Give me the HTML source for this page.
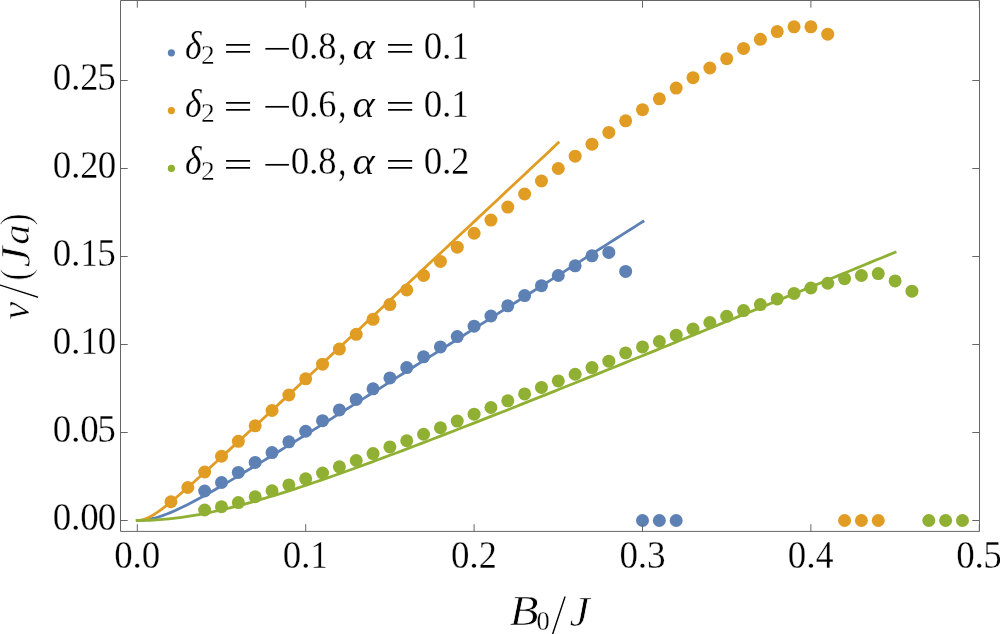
<!DOCTYPE html>
<html lang="en"><head><meta charset="utf-8"><title>v/(Ja) vs B0/J</title>
<style>html,body{margin:0;padding:0;background:#fff}svg{display:block}</style></head>
<body>
<svg width="1000" height="634" viewBox="0 0 1000 634" font-family="'Liberation Serif', serif" fill="#000">
<rect width="1000" height="634" fill="#fff"/>
<polyline points="137.30,520.50 141.51,520.35 145.73,519.91 149.94,519.20 154.16,518.23 158.37,517.03 162.59,515.63 166.80,514.06 171.01,512.35 175.23,510.51 179.44,508.56 183.66,506.53 187.87,504.41 192.08,502.24 196.30,500.00 200.51,497.72 204.73,495.40 208.94,493.04 213.16,490.66 217.37,488.24 221.58,485.81 225.80,483.35 230.01,480.87 234.23,478.38 238.44,475.87 242.66,473.35 246.87,470.82 251.08,468.27 255.30,465.72 259.51,463.16 263.73,460.59 267.94,458.01 272.15,455.43 276.37,452.84 280.58,450.25 284.80,447.65 289.01,445.05 293.23,442.44 297.44,439.83 301.65,437.21 305.87,434.59 310.08,431.97 314.30,429.34 318.51,426.72 322.73,424.08 326.94,421.45 331.15,418.82 335.37,416.18 339.58,413.54 343.80,410.90 348.01,408.26 352.22,405.61 356.44,402.96 360.65,400.32 364.87,397.67 369.08,395.02 373.30,392.37 377.51,389.71 381.72,387.06 385.94,384.40 390.15,381.75 394.37,379.09 398.58,376.43 402.80,373.77 407.01,371.11 411.22,368.45 415.44,365.79 419.65,363.13 423.87,360.46 428.08,357.80 432.29,355.14 436.51,352.47 440.72,349.81 444.94,347.14 449.15,344.47 453.37,341.81 457.58,339.14 461.79,336.47 466.01,333.80 470.22,331.13 474.44,328.46 478.65,325.79 482.87,323.12 487.08,320.45 491.29,317.78 495.51,315.11 499.72,312.44 503.94,309.77 508.15,307.09 512.36,304.42 516.58,301.75 520.79,299.07 525.01,296.40 529.22,293.73 533.44,291.05 537.65,288.38 541.86,285.70 546.08,283.03 550.29,280.35 554.51,277.68 558.72,275.00 562.94,272.33 567.15,269.65 571.36,266.97 575.58,264.30 579.79,261.62 584.01,258.94 588.22,256.27 592.43,253.59 596.65,250.91 600.86,248.23 605.08,245.56 609.29,242.88 613.51,240.20 617.72,237.52 621.93,234.84 626.15,232.16 630.36,229.49 634.58,226.81 638.79,224.13 643.01,221.45" fill="none" stroke="#5E81B5" stroke-width="2.8" stroke-linecap="square" stroke-linejoin="round"/>
<polyline points="137.30,520.50 140.81,520.19 144.32,519.30 147.83,517.89 151.33,516.08 154.84,513.95 158.35,511.58 161.86,509.03 165.37,506.34 168.88,503.55 172.38,500.67 175.89,497.73 179.40,494.75 182.91,491.72 186.42,488.65 189.93,485.56 193.43,482.45 196.94,479.32 200.45,476.17 203.96,473.01 207.47,469.83 210.98,466.65 214.48,463.45 217.99,460.25 221.50,457.04 225.01,453.83 228.52,450.61 232.03,447.38 235.53,444.15 239.04,440.92 242.55,437.68 246.06,434.44 249.57,431.19 253.08,427.95 256.58,424.70 260.09,421.45 263.60,418.20 267.11,414.94 270.62,411.68 274.12,408.42 277.63,405.16 281.14,401.90 284.65,398.64 288.16,395.38 291.67,392.11 295.18,388.85 298.68,385.58 302.19,382.31 305.70,379.04 309.21,375.77 312.72,372.50 316.23,369.23 319.73,365.96 323.24,362.69 326.75,359.41 330.26,356.14 333.77,352.87 337.27,349.59 340.78,346.32 344.29,343.04 347.80,339.76 351.31,336.49 354.82,333.21 358.33,329.93 361.83,326.65 365.34,323.38 368.85,320.10 372.36,316.82 375.87,313.54 379.38,310.26 382.88,306.98 386.39,303.70 389.90,300.42 393.41,297.14 396.92,293.86 400.43,290.58 403.93,287.30 407.44,284.02 410.95,280.74 414.46,277.46 417.97,274.17 421.48,270.89 424.98,267.61 428.49,264.33 432.00,261.04 435.51,257.76 439.02,254.48 442.52,251.20 446.03,247.91 449.54,244.63 453.05,241.35 456.56,238.06 460.07,234.78 463.58,231.50 467.08,228.21 470.59,224.93 474.10,221.64 477.61,218.36 481.12,215.08 484.62,211.79 488.13,208.51 491.64,205.22 495.15,201.94 498.66,198.65 502.17,195.37 505.68,192.08 509.18,188.80 512.69,185.51 516.20,182.23 519.71,178.94 523.22,175.66 526.73,172.37 530.23,169.09 533.74,165.80 537.25,162.52 540.76,159.23 544.27,155.95 547.77,152.66 551.28,149.38 554.79,146.09 558.30,142.80" fill="none" stroke="#E19C24" stroke-width="2.8" stroke-linecap="square" stroke-linejoin="round"/>
<polyline points="137.30,520.50 143.62,520.43 149.93,520.24 156.25,519.91 162.56,519.46 168.88,518.88 175.19,518.18 181.50,517.37 187.82,516.44 194.13,515.41 200.45,514.28 206.77,513.06 213.08,511.75 219.40,510.35 225.71,508.87 232.03,507.33 238.34,505.71 244.66,504.04 250.97,502.30 257.29,500.51 263.60,498.67 269.92,496.78 276.23,494.85 282.54,492.88 288.86,490.87 295.18,488.83 301.49,486.76 307.81,484.65 314.12,482.52 320.44,480.36 326.75,478.18 333.07,475.97 339.38,473.74 345.70,471.50 352.01,469.23 358.33,466.95 364.64,464.65 370.96,462.34 377.27,460.01 383.59,457.67 389.90,455.31 396.22,452.95 402.53,450.57 408.85,448.18 415.16,445.79 421.48,443.38 427.79,440.96 434.11,438.54 440.42,436.11 446.74,433.67 453.05,431.22 459.37,428.77 465.68,426.31 472.00,423.84 478.31,421.37 484.62,418.89 490.94,416.41 497.26,413.92 503.57,411.43 509.88,408.93 516.20,406.43 522.51,403.92 528.83,401.41 535.14,398.90 541.46,396.38 547.77,393.86 554.09,391.34 560.41,388.81 566.72,386.28 573.03,383.74 579.35,381.21 585.66,378.67 591.98,376.13 598.30,373.58 604.61,371.03 610.92,368.49 617.24,365.93 623.56,363.38 629.87,360.82 636.19,358.27 642.50,355.71 648.82,353.14 655.13,350.58 661.45,348.02 667.76,345.45 674.08,342.88 680.39,340.31 686.70,337.74 693.02,335.17 699.34,332.59 705.65,330.01 711.96,327.44 718.28,324.86 724.60,322.28 730.91,319.70 737.23,317.11 743.54,314.53 749.86,311.95 756.17,309.36 762.49,306.77 768.80,304.18 775.12,301.60 781.43,299.01 787.75,296.42 794.06,293.82 800.38,291.23 806.69,288.64 813.01,286.04 819.32,283.45 825.64,280.85 831.95,278.25 838.27,275.66 844.58,273.06 850.89,270.46 857.21,267.86 863.53,265.26 869.84,262.66 876.15,260.06 882.47,257.45 888.79,254.85 895.10,252.25" fill="none" stroke="#8FB032" stroke-width="2.8" stroke-linecap="square" stroke-linejoin="round"/>
<g fill="#5E81B5">
<circle cx="204.66" cy="491.00" r="6.5"/>
<circle cx="221.50" cy="482.48" r="6.5"/>
<circle cx="238.34" cy="472.45" r="6.5"/>
<circle cx="255.18" cy="462.42" r="6.5"/>
<circle cx="272.02" cy="452.56" r="6.5"/>
<circle cx="288.86" cy="441.83" r="6.5"/>
<circle cx="305.70" cy="431.27" r="6.5"/>
<circle cx="322.54" cy="420.71" r="6.5"/>
<circle cx="339.38" cy="409.97" r="6.5"/>
<circle cx="356.22" cy="399.41" r="6.5"/>
<circle cx="373.06" cy="388.85" r="6.5"/>
<circle cx="389.90" cy="377.94" r="6.5"/>
<circle cx="406.74" cy="367.56" r="6.5"/>
<circle cx="423.58" cy="356.82" r="6.5"/>
<circle cx="440.42" cy="346.96" r="6.5"/>
<circle cx="457.26" cy="336.58" r="6.5"/>
<circle cx="474.10" cy="326.20" r="6.5"/>
<circle cx="490.94" cy="315.99" r="6.5"/>
<circle cx="507.78" cy="305.78" r="6.5"/>
<circle cx="524.62" cy="295.57" r="6.5"/>
<circle cx="541.46" cy="285.72" r="6.5"/>
<circle cx="558.30" cy="275.51" r="6.5"/>
<circle cx="575.14" cy="265.83" r="6.5"/>
<circle cx="591.98" cy="255.80" r="6.5"/>
<circle cx="608.82" cy="252.45" r="6.5"/>
<circle cx="625.66" cy="271.46" r="6.5"/>
<circle cx="642.50" cy="520.50" r="6.5"/>
<circle cx="659.34" cy="520.50" r="6.5"/>
<circle cx="676.18" cy="520.50" r="6.5"/>
</g>
<g fill="#E19C24">
<circle cx="170.98" cy="501.76" r="6.5"/>
<circle cx="187.82" cy="487.50" r="6.5"/>
<circle cx="204.66" cy="471.99" r="6.5"/>
<circle cx="221.50" cy="456.26" r="6.5"/>
<circle cx="238.34" cy="441.30" r="6.5"/>
<circle cx="255.18" cy="425.81" r="6.5"/>
<circle cx="272.02" cy="410.50" r="6.5"/>
<circle cx="288.86" cy="395.01" r="6.5"/>
<circle cx="305.70" cy="378.82" r="6.5"/>
<circle cx="322.54" cy="364.21" r="6.5"/>
<circle cx="339.38" cy="349.08" r="6.5"/>
<circle cx="356.22" cy="334.29" r="6.5"/>
<circle cx="373.06" cy="319.33" r="6.5"/>
<circle cx="389.90" cy="304.55" r="6.5"/>
<circle cx="406.74" cy="289.94" r="6.5"/>
<circle cx="423.58" cy="275.51" r="6.5"/>
<circle cx="440.42" cy="261.43" r="6.5"/>
<circle cx="457.26" cy="247.17" r="6.5"/>
<circle cx="474.10" cy="233.27" r="6.5"/>
<circle cx="490.94" cy="220.07" r="6.5"/>
<circle cx="507.78" cy="207.04" r="6.5"/>
<circle cx="524.62" cy="194.02" r="6.5"/>
<circle cx="541.46" cy="181.00" r="6.5"/>
<circle cx="558.30" cy="168.50" r="6.5"/>
<circle cx="575.14" cy="156.18" r="6.5"/>
<circle cx="591.98" cy="144.21" r="6.5"/>
<circle cx="608.82" cy="132.42" r="6.5"/>
<circle cx="625.66" cy="120.80" r="6.5"/>
<circle cx="642.50" cy="109.72" r="6.5"/>
<circle cx="659.34" cy="98.80" r="6.5"/>
<circle cx="676.18" cy="88.07" r="6.5"/>
<circle cx="693.02" cy="77.68" r="6.5"/>
<circle cx="709.86" cy="68.00" r="6.5"/>
<circle cx="726.70" cy="58.68" r="6.5"/>
<circle cx="743.54" cy="48.47" r="6.5"/>
<circle cx="760.38" cy="39.32" r="6.5"/>
<circle cx="777.22" cy="31.57" r="6.5"/>
<circle cx="794.06" cy="26.82" r="6.5"/>
<circle cx="810.90" cy="26.82" r="6.5"/>
<circle cx="827.74" cy="34.21" r="6.5"/>
<circle cx="844.58" cy="520.50" r="6.5"/>
<circle cx="861.42" cy="520.50" r="6.5"/>
<circle cx="878.26" cy="520.50" r="6.5"/>
</g>
<g fill="#8FB032">
<circle cx="204.66" cy="509.99" r="6.5"/>
<circle cx="221.50" cy="506.77" r="6.5"/>
<circle cx="238.34" cy="502.55" r="6.5"/>
<circle cx="255.18" cy="496.74" r="6.5"/>
<circle cx="272.02" cy="490.76" r="6.5"/>
<circle cx="288.86" cy="484.95" r="6.5"/>
<circle cx="305.70" cy="478.79" r="6.5"/>
<circle cx="322.54" cy="472.98" r="6.5"/>
<circle cx="339.38" cy="466.82" r="6.5"/>
<circle cx="356.22" cy="460.48" r="6.5"/>
<circle cx="373.06" cy="453.62" r="6.5"/>
<circle cx="389.90" cy="446.93" r="6.5"/>
<circle cx="406.74" cy="440.77" r="6.5"/>
<circle cx="423.58" cy="434.26" r="6.5"/>
<circle cx="440.42" cy="427.75" r="6.5"/>
<circle cx="457.26" cy="421.06" r="6.5"/>
<circle cx="474.10" cy="414.20" r="6.5"/>
<circle cx="490.94" cy="407.51" r="6.5"/>
<circle cx="507.78" cy="400.82" r="6.5"/>
<circle cx="524.62" cy="393.96" r="6.5"/>
<circle cx="541.46" cy="387.44" r="6.5"/>
<circle cx="558.30" cy="380.93" r="6.5"/>
<circle cx="575.14" cy="374.24" r="6.5"/>
<circle cx="591.98" cy="367.56" r="6.5"/>
<circle cx="608.82" cy="361.22" r="6.5"/>
<circle cx="625.66" cy="352.95" r="6.5"/>
<circle cx="642.50" cy="346.96" r="6.5"/>
<circle cx="659.34" cy="341.51" r="6.5"/>
<circle cx="676.18" cy="335.17" r="6.5"/>
<circle cx="693.02" cy="329.01" r="6.5"/>
<circle cx="709.86" cy="322.50" r="6.5"/>
<circle cx="726.70" cy="316.34" r="6.5"/>
<circle cx="743.54" cy="310.53" r="6.5"/>
<circle cx="760.38" cy="304.55" r="6.5"/>
<circle cx="777.22" cy="298.92" r="6.5"/>
<circle cx="794.06" cy="293.46" r="6.5"/>
<circle cx="810.90" cy="288.00" r="6.5"/>
<circle cx="827.74" cy="283.25" r="6.5"/>
<circle cx="844.58" cy="278.68" r="6.5"/>
<circle cx="861.42" cy="275.51" r="6.5"/>
<circle cx="878.26" cy="273.57" r="6.5"/>
<circle cx="895.10" cy="280.96" r="6.5"/>
<circle cx="911.94" cy="291.17" r="6.5"/>
<circle cx="928.78" cy="520.50" r="6.5"/>
<circle cx="945.62" cy="520.50" r="6.5"/>
<circle cx="962.46" cy="520.50" r="6.5"/>
</g>
<g stroke="#666" stroke-width="1" fill="none">
<path d="M120.5,0.5H979.5V531.4H120.5Z"/>
<path d="M137.30,531.4v-7.2M137.30,0.5v7.2M120.5,520.50h7.2M979.5,520.50h-7.2M305.70,531.4v-7.2M305.70,0.5v7.2M120.5,432.50h7.2M979.5,432.50h-7.2M474.10,531.4v-7.2M474.10,0.5v7.2M120.5,344.50h7.2M979.5,344.50h-7.2M642.50,531.4v-7.2M642.50,0.5v7.2M120.5,256.50h7.2M979.5,256.50h-7.2M810.90,531.4v-7.2M810.90,0.5v7.2M120.5,168.50h7.2M979.5,168.50h-7.2M979.30,531.4v-7.2M979.30,0.5v7.2M120.5,80.50h7.2M979.5,80.50h-7.2"/>
</g>
<text><tspan x="52.64" y="530.00" font-size="39.20" textLength="18.51" lengthAdjust="spacingAndGlyphs" stroke="#fff" stroke-width="0.30">0</tspan><tspan x="70.72" y="530.00" font-size="37.29" textLength="9.96" lengthAdjust="spacingAndGlyphs" stroke="#fff" stroke-width="0.30">.</tspan><tspan x="80.24" y="530.00" font-size="39.20" textLength="18.51" lengthAdjust="spacingAndGlyphs" stroke="#fff" stroke-width="0.30">0</tspan><tspan x="97.84" y="530.00" font-size="39.20" textLength="18.51" lengthAdjust="spacingAndGlyphs" stroke="#fff" stroke-width="0.30">0</tspan></text>
<text><tspan x="114.24" y="568.30" font-size="39.20" textLength="18.51" lengthAdjust="spacingAndGlyphs" stroke="#fff" stroke-width="0.30">0</tspan><tspan x="132.32" y="568.30" font-size="37.29" textLength="9.96" lengthAdjust="spacingAndGlyphs" stroke="#fff" stroke-width="0.30">.</tspan><tspan x="141.84" y="568.30" font-size="39.20" textLength="18.51" lengthAdjust="spacingAndGlyphs" stroke="#fff" stroke-width="0.30">0</tspan></text>
<text><tspan x="52.64" y="442.00" font-size="39.20" textLength="18.51" lengthAdjust="spacingAndGlyphs" stroke="#fff" stroke-width="0.30">0</tspan><tspan x="70.72" y="442.00" font-size="37.29" textLength="9.96" lengthAdjust="spacingAndGlyphs" stroke="#fff" stroke-width="0.30">.</tspan><tspan x="80.24" y="442.00" font-size="39.20" textLength="18.51" lengthAdjust="spacingAndGlyphs" stroke="#fff" stroke-width="0.30">0</tspan><tspan x="97.29" y="442.00" font-size="39.20" textLength="18.61" lengthAdjust="spacingAndGlyphs" stroke="#fff" stroke-width="0.30">5</tspan></text>
<text><tspan x="282.64" y="568.30" font-size="39.20" textLength="18.51" lengthAdjust="spacingAndGlyphs" stroke="#fff" stroke-width="0.30">0</tspan><tspan x="300.72" y="568.30" font-size="37.29" textLength="9.96" lengthAdjust="spacingAndGlyphs" stroke="#fff" stroke-width="0.30">.</tspan><tspan x="310.48" y="568.30" font-size="39.20" textLength="17.47" lengthAdjust="spacingAndGlyphs" stroke="#fff" stroke-width="0.30">1</tspan></text>
<text><tspan x="52.64" y="354.00" font-size="39.20" textLength="18.51" lengthAdjust="spacingAndGlyphs" stroke="#fff" stroke-width="0.30">0</tspan><tspan x="70.72" y="354.00" font-size="37.29" textLength="9.96" lengthAdjust="spacingAndGlyphs" stroke="#fff" stroke-width="0.30">.</tspan><tspan x="80.47" y="354.00" font-size="39.20" textLength="17.47" lengthAdjust="spacingAndGlyphs" stroke="#fff" stroke-width="0.30">1</tspan><tspan x="97.84" y="354.00" font-size="39.20" textLength="18.51" lengthAdjust="spacingAndGlyphs" stroke="#fff" stroke-width="0.30">0</tspan></text>
<text><tspan x="451.04" y="568.30" font-size="39.20" textLength="18.51" lengthAdjust="spacingAndGlyphs" stroke="#fff" stroke-width="0.30">0</tspan><tspan x="469.12" y="568.30" font-size="37.29" textLength="9.96" lengthAdjust="spacingAndGlyphs" stroke="#fff" stroke-width="0.30">.</tspan><tspan x="478.66" y="568.30" font-size="39.20" textLength="18.08" lengthAdjust="spacingAndGlyphs" stroke="#fff" stroke-width="0.30">2</tspan></text>
<text><tspan x="52.64" y="266.00" font-size="39.20" textLength="18.51" lengthAdjust="spacingAndGlyphs" stroke="#fff" stroke-width="0.30">0</tspan><tspan x="70.72" y="266.00" font-size="37.29" textLength="9.96" lengthAdjust="spacingAndGlyphs" stroke="#fff" stroke-width="0.30">.</tspan><tspan x="80.47" y="266.00" font-size="39.20" textLength="17.47" lengthAdjust="spacingAndGlyphs" stroke="#fff" stroke-width="0.30">1</tspan><tspan x="97.29" y="266.00" font-size="39.20" textLength="18.61" lengthAdjust="spacingAndGlyphs" stroke="#fff" stroke-width="0.30">5</tspan></text>
<text><tspan x="619.44" y="568.30" font-size="39.20" textLength="18.51" lengthAdjust="spacingAndGlyphs" stroke="#fff" stroke-width="0.30">0</tspan><tspan x="637.52" y="568.30" font-size="37.29" textLength="9.96" lengthAdjust="spacingAndGlyphs" stroke="#fff" stroke-width="0.30">.</tspan><tspan x="647.06" y="568.30" font-size="39.20" textLength="18.64" lengthAdjust="spacingAndGlyphs" stroke="#fff" stroke-width="0.30">3</tspan></text>
<text><tspan x="52.64" y="178.00" font-size="39.20" textLength="18.51" lengthAdjust="spacingAndGlyphs" stroke="#fff" stroke-width="0.30">0</tspan><tspan x="70.72" y="178.00" font-size="37.29" textLength="9.96" lengthAdjust="spacingAndGlyphs" stroke="#fff" stroke-width="0.30">.</tspan><tspan x="80.26" y="178.00" font-size="39.20" textLength="18.08" lengthAdjust="spacingAndGlyphs" stroke="#fff" stroke-width="0.30">2</tspan><tspan x="97.84" y="178.00" font-size="39.20" textLength="18.51" lengthAdjust="spacingAndGlyphs" stroke="#fff" stroke-width="0.30">0</tspan></text>
<text><tspan x="787.84" y="568.30" font-size="39.20" textLength="18.51" lengthAdjust="spacingAndGlyphs" stroke="#fff" stroke-width="0.30">0</tspan><tspan x="805.92" y="568.30" font-size="37.29" textLength="9.96" lengthAdjust="spacingAndGlyphs" stroke="#fff" stroke-width="0.30">.</tspan><tspan x="815.74" y="568.30" font-size="39.20" textLength="17.78" lengthAdjust="spacingAndGlyphs" stroke="#fff" stroke-width="0.30">4</tspan></text>
<text><tspan x="52.64" y="90.00" font-size="39.20" textLength="18.51" lengthAdjust="spacingAndGlyphs" stroke="#fff" stroke-width="0.30">0</tspan><tspan x="70.72" y="90.00" font-size="37.29" textLength="9.96" lengthAdjust="spacingAndGlyphs" stroke="#fff" stroke-width="0.30">.</tspan><tspan x="80.26" y="90.00" font-size="39.20" textLength="18.08" lengthAdjust="spacingAndGlyphs" stroke="#fff" stroke-width="0.30">2</tspan><tspan x="97.29" y="90.00" font-size="39.20" textLength="18.61" lengthAdjust="spacingAndGlyphs" stroke="#fff" stroke-width="0.30">5</tspan></text>
<text><tspan x="956.24" y="568.30" font-size="39.20" textLength="18.51" lengthAdjust="spacingAndGlyphs" stroke="#fff" stroke-width="0.30">0</tspan><tspan x="974.32" y="568.30" font-size="37.29" textLength="9.96" lengthAdjust="spacingAndGlyphs" stroke="#fff" stroke-width="0.30">.</tspan><tspan x="983.29" y="568.30" font-size="39.20" textLength="18.61" lengthAdjust="spacingAndGlyphs" stroke="#fff" stroke-width="0.30">5</tspan></text>
<text><tspan x="509.52" y="625.23" font-size="41.34" textLength="29.17" lengthAdjust="spacingAndGlyphs" font-style="italic" stroke="#fff" stroke-width="0.70">B</tspan><tspan x="536.45" y="630.47" font-size="28.00" textLength="13.21" lengthAdjust="spacingAndGlyphs" stroke="#fff" stroke-width="0.30">0</tspan><tspan x="550.65" y="634.66" font-size="59.49" textLength="15.89" lengthAdjust="spacingAndGlyphs" stroke="#fff" stroke-width="1.10">/</tspan><tspan x="569.47" y="625.73" font-size="42.11" textLength="20.11" lengthAdjust="spacingAndGlyphs" font-style="italic" stroke="#fff" stroke-width="0.70">J</tspan></text>
<text transform="translate(29.0,320.0) rotate(-90)"><tspan x="0.23" y="0.30" font-size="39.87" textLength="18.06" lengthAdjust="spacingAndGlyphs" font-style="italic" stroke="#fff" stroke-width="0.60">v</tspan><tspan x="21.25" y="9.16" font-size="58.74" textLength="15.29" lengthAdjust="spacingAndGlyphs" stroke="#fff" stroke-width="1.10">/</tspan><tspan x="39.24" y="0.47" font-size="43.11" textLength="12.18" lengthAdjust="spacingAndGlyphs" stroke="#fff" stroke-width="0.90">(</tspan><tspan x="52.85" y="0.63" font-size="42.41" textLength="20.67" lengthAdjust="spacingAndGlyphs" font-style="italic" stroke="#fff" stroke-width="0.70">J</tspan><tspan x="75.17" y="0.31" font-size="38.88" textLength="20.49" lengthAdjust="spacingAndGlyphs" font-style="italic" stroke="#fff" stroke-width="0.60">a</tspan><tspan x="94.48" y="0.47" font-size="43.11" textLength="12.18" lengthAdjust="spacingAndGlyphs" stroke="#fff" stroke-width="0.90">)</tspan></text>
<circle cx="171.4" cy="52.8" r="3.6" fill="#5E81B5"/>
<text><tspan x="185.07" y="58.70" font-size="39.77" textLength="16.56" lengthAdjust="spacingAndGlyphs" font-style="italic" stroke="#fff" stroke-width="0.20">δ</tspan><tspan x="200.94" y="63.95" font-size="27.34" textLength="13.72" lengthAdjust="spacingAndGlyphs" stroke="#fff" stroke-width="0.30">2</tspan><tspan x="223.42" y="60.20" font-size="34.00" textLength="29.11" lengthAdjust="spacingAndGlyphs">=</tspan><tspan x="262.46" y="60.40" font-size="34.00" textLength="28.62" lengthAdjust="spacingAndGlyphs">−</tspan><tspan x="290.64" y="58.70" font-size="39.20" textLength="18.51" lengthAdjust="spacingAndGlyphs" stroke="#fff" stroke-width="0.30">0</tspan><tspan x="308.72" y="58.70" font-size="37.29" textLength="9.96" lengthAdjust="spacingAndGlyphs" stroke="#fff" stroke-width="0.30">.</tspan><tspan x="318.36" y="58.70" font-size="39.20" textLength="18.28" lengthAdjust="spacingAndGlyphs" stroke="#fff" stroke-width="0.30">8</tspan><tspan x="338.13" y="58.90" font-size="45.14" textLength="8.05" lengthAdjust="spacingAndGlyphs" stroke="#fff" stroke-width="0.30">,</tspan><tspan x="352.43" y="58.82" font-size="37.97" textLength="22.19" lengthAdjust="spacingAndGlyphs" font-style="italic" stroke="#fff" stroke-width="0.20">α</tspan><tspan x="385.61" y="60.20" font-size="34.00" textLength="29.23" lengthAdjust="spacingAndGlyphs">=</tspan><tspan x="423.64" y="58.70" font-size="39.20" textLength="18.51" lengthAdjust="spacingAndGlyphs" stroke="#fff" stroke-width="0.30">0</tspan><tspan x="441.72" y="58.70" font-size="37.29" textLength="9.96" lengthAdjust="spacingAndGlyphs" stroke="#fff" stroke-width="0.30">.</tspan><tspan x="451.48" y="58.70" font-size="39.20" textLength="17.47" lengthAdjust="spacingAndGlyphs" stroke="#fff" stroke-width="0.30">1</tspan></text>
<circle cx="171.4" cy="110.6" r="3.6" fill="#E19C24"/>
<text><tspan x="185.07" y="116.50" font-size="39.77" textLength="16.56" lengthAdjust="spacingAndGlyphs" font-style="italic" stroke="#fff" stroke-width="0.20">δ</tspan><tspan x="200.94" y="121.75" font-size="27.34" textLength="13.72" lengthAdjust="spacingAndGlyphs" stroke="#fff" stroke-width="0.30">2</tspan><tspan x="223.42" y="118.00" font-size="34.00" textLength="29.11" lengthAdjust="spacingAndGlyphs">=</tspan><tspan x="262.46" y="118.20" font-size="34.00" textLength="28.62" lengthAdjust="spacingAndGlyphs">−</tspan><tspan x="290.64" y="116.50" font-size="39.20" textLength="18.51" lengthAdjust="spacingAndGlyphs" stroke="#fff" stroke-width="0.30">0</tspan><tspan x="308.72" y="116.50" font-size="37.29" textLength="9.96" lengthAdjust="spacingAndGlyphs" stroke="#fff" stroke-width="0.30">.</tspan><tspan x="318.19" y="116.50" font-size="39.20" textLength="18.15" lengthAdjust="spacingAndGlyphs" stroke="#fff" stroke-width="0.30">6</tspan><tspan x="338.13" y="116.70" font-size="45.14" textLength="8.05" lengthAdjust="spacingAndGlyphs" stroke="#fff" stroke-width="0.30">,</tspan><tspan x="352.43" y="116.62" font-size="37.97" textLength="22.19" lengthAdjust="spacingAndGlyphs" font-style="italic" stroke="#fff" stroke-width="0.20">α</tspan><tspan x="385.61" y="118.00" font-size="34.00" textLength="29.23" lengthAdjust="spacingAndGlyphs">=</tspan><tspan x="423.64" y="116.50" font-size="39.20" textLength="18.51" lengthAdjust="spacingAndGlyphs" stroke="#fff" stroke-width="0.30">0</tspan><tspan x="441.72" y="116.50" font-size="37.29" textLength="9.96" lengthAdjust="spacingAndGlyphs" stroke="#fff" stroke-width="0.30">.</tspan><tspan x="451.48" y="116.50" font-size="39.20" textLength="17.47" lengthAdjust="spacingAndGlyphs" stroke="#fff" stroke-width="0.30">1</tspan></text>
<circle cx="171.4" cy="168.4" r="3.6" fill="#8FB032"/>
<text><tspan x="185.07" y="174.30" font-size="39.77" textLength="16.56" lengthAdjust="spacingAndGlyphs" font-style="italic" stroke="#fff" stroke-width="0.20">δ</tspan><tspan x="200.94" y="179.55" font-size="27.34" textLength="13.72" lengthAdjust="spacingAndGlyphs" stroke="#fff" stroke-width="0.30">2</tspan><tspan x="223.42" y="175.80" font-size="34.00" textLength="29.11" lengthAdjust="spacingAndGlyphs">=</tspan><tspan x="262.46" y="176.00" font-size="34.00" textLength="28.62" lengthAdjust="spacingAndGlyphs">−</tspan><tspan x="290.64" y="174.30" font-size="39.20" textLength="18.51" lengthAdjust="spacingAndGlyphs" stroke="#fff" stroke-width="0.30">0</tspan><tspan x="308.72" y="174.30" font-size="37.29" textLength="9.96" lengthAdjust="spacingAndGlyphs" stroke="#fff" stroke-width="0.30">.</tspan><tspan x="318.36" y="174.30" font-size="39.20" textLength="18.28" lengthAdjust="spacingAndGlyphs" stroke="#fff" stroke-width="0.30">8</tspan><tspan x="338.13" y="174.50" font-size="45.14" textLength="8.05" lengthAdjust="spacingAndGlyphs" stroke="#fff" stroke-width="0.30">,</tspan><tspan x="352.43" y="174.42" font-size="37.97" textLength="22.19" lengthAdjust="spacingAndGlyphs" font-style="italic" stroke="#fff" stroke-width="0.20">α</tspan><tspan x="385.61" y="175.80" font-size="34.00" textLength="29.23" lengthAdjust="spacingAndGlyphs">=</tspan><tspan x="423.64" y="174.30" font-size="39.20" textLength="18.51" lengthAdjust="spacingAndGlyphs" stroke="#fff" stroke-width="0.30">0</tspan><tspan x="441.72" y="174.30" font-size="37.29" textLength="9.96" lengthAdjust="spacingAndGlyphs" stroke="#fff" stroke-width="0.30">.</tspan><tspan x="451.26" y="174.30" font-size="39.20" textLength="18.08" lengthAdjust="spacingAndGlyphs" stroke="#fff" stroke-width="0.30">2</tspan></text>
</svg>
</body></html>
